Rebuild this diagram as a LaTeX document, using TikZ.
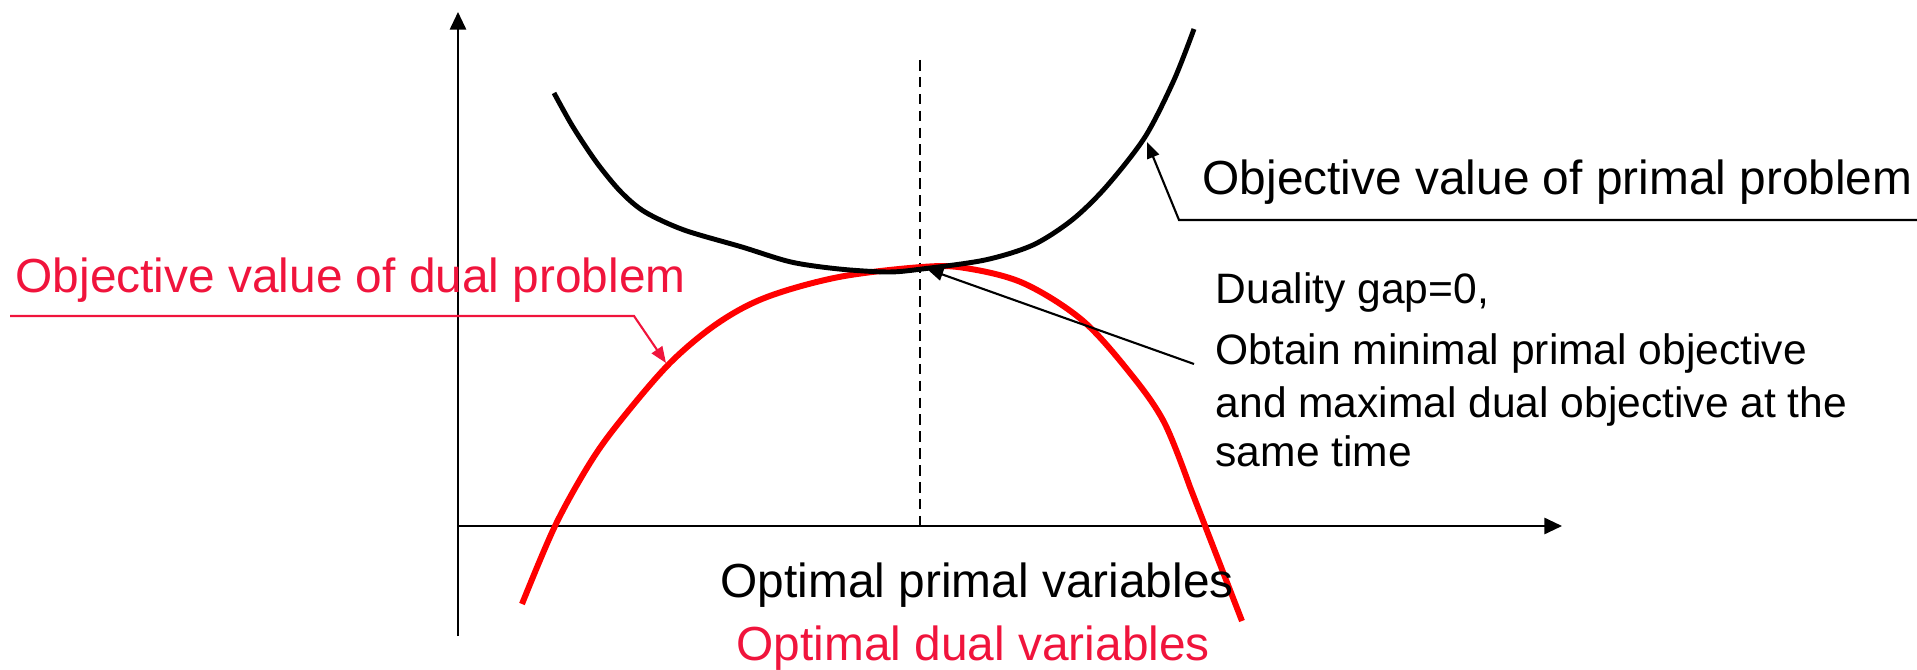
\documentclass[tikz,border=0pt]{standalone}
\usepackage{fontspec}
\setmainfont{Liberation Sans}
\usetikzlibrary{arrows.meta}
\definecolor{dualCurve}{RGB}{255,0,0}
\definecolor{dualText}{RGB}{240,20,60}

\begin{document}
\begin{tikzpicture}[x=0.01cm, y=-0.01cm,
    axis/.style={line width=0.6pt, -{Triangle[length=5pt,width=4.6pt]}},
    curve/.style={line width=1.4pt, line join=round, line cap=butt},
    callout/.style={line width=0.6pt, -{Triangle[length=4.6pt,width=3.6pt]}},
    lbl/.style={anchor=base west, inner sep=0pt,
      font=\fontsize{13.6}{14.5}\selectfont},
    note/.style={lbl, font=\fontsize{12.1}{14.5}\selectfont}]
  \useasboundingbox (0,0) rectangle (1917,670);

  % axes and the optimum line
  \coordinate (O) at (458,526);
  \coordinate (yBot) at (458,636);
  \coordinate (yTop) at (458,12);
  \coordinate (xEnd) at (1562,526);
  \draw[axis] (yBot) -- (yTop);
  \draw[axis] (O) -- (xEnd);
  \coordinate (optTop) at (920,60);
  \coordinate (optBot) at (920,526);
  \draw[line width=0.7pt, dash pattern=on 3pt off 1.8pt] (optTop) -- (optBot);

  % dual objective
  \draw[curve, line width=1.7pt, dualCurve]
      plot[smooth, tension=0.55] coordinates {
      (522,604) (555,526) (590,463) (621,420) (670,363) (718,323)
      (767,297) (839,277) (922,267) (965,268) (1023,283) (1082,320)
      (1130,373) (1164,422) (1190,487)} -- (1242,621);
  % primal objective
  \draw[curve] plot[smooth, tension=0.5] coordinates {
      (554,93) (573,127) (597,163) (621,192) (645,212) (684,230)
      (742,247) (791,262) (839,269) (888,272) (922,269) (985,260)
      (1033,245) (1072,220) (1106,187) (1145,137) (1174,80) (1194,29)};

  % labels
  \node[lbl] (primLbl) at (1202,195) {Objective value of primal problem};
  \node[lbl, dualText] (dualLbl) at (15,293) {Objective value of dual problem};
  \node[note] (gapA) at (1215,304) {Duality gap=0,};
  \node[note] (gapB) at (1215,364) {Obtain minimal primal objective};
  \node[note] (gapC) at (1215,417) {and maximal dual objective at the};
  \node[note] (gapD) at (1215,466) {same time};
  \node[lbl] (primVar) at (720,597) {Optimal primal variables};
  \node[lbl, dualText] (dualVar) at (736,660) {Optimal dual variables};

  % callouts
  \coordinate (pEnd) at (1917,220);
  \coordinate (pBend) at (1179,220);
  \coordinate (pTip) at (1147,142);
  \draw[callout] (pEnd) -- (pBend) -- (pTip);
  \coordinate (dEnd) at (10,316);
  \coordinate (dBend) at (634,316);
  \coordinate (dTip) at (666,363);
  \draw[callout, dualText] (dEnd) -- (dBend) -- (dTip);
  \coordinate (gEnd) at (1194,364);
  \coordinate (gTip) at (927,269);
  \draw[callout] (gEnd) -- (gTip);
\end{tikzpicture}
\end{document}
